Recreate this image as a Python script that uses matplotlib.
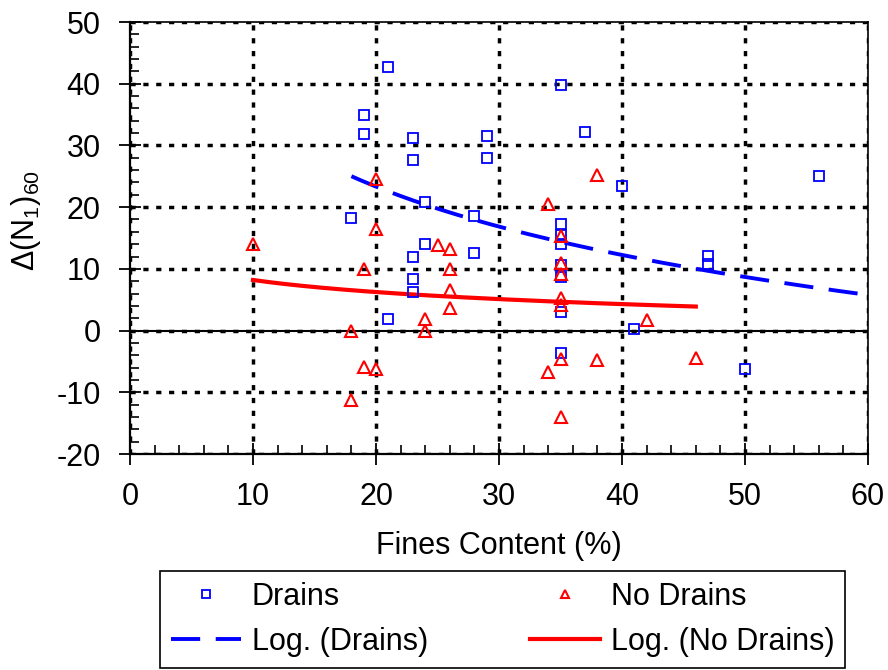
import matplotlib
matplotlib.use('Agg')
import matplotlib.pyplot as plt
from matplotlib.ticker import MultipleLocator
import numpy as np

plt.rcParams['font.family'] = 'Liberation Sans'
plt.rcParams['font.size'] = 22
plt.rcParams['axes.unicode_minus'] = False
plt.rcParams['mathtext.fontset'] = 'custom'
plt.rcParams['mathtext.rm'] = 'Liberation Sans'
plt.rcParams['mathtext.it'] = 'Liberation Sans:italic'

# fines content (%) and change in (N1)60, sites with drains
drains_fc = [18, 19, 19, 21, 21, 23, 23, 23, 23, 23, 24, 24, 28, 28, 29, 29,
             35, 35, 35, 35, 35, 35, 35, 35, 37, 40, 41, 47, 47, 50, 56]
drains_dn = [18.3, 35.0, 31.8, 42.7, 1.9, 31.2, 27.6, 11.9, 8.3, 6.3, 20.8, 14.1,
             18.6, 12.5, 31.5, 28.0, 39.8, 17.3, 15.5, 14.0, 10.6, 8.6, 3.0, -3.7,
             32.1, 23.4, 0.2, 12.1, 10.8, -6.2, 25.0]

# sites without drains
nodrains_fc = [10, 18, 18, 19, 19, 20, 20, 20, 24, 24, 25, 26, 26, 26, 26,
               34, 34, 35, 35, 35, 35, 35, 35, 35, 38, 38, 42, 46]
nodrains_dn = [14.1, 0.0, -11.3, 10.0, -5.9, 24.6, 16.4, -6.2, 1.9, 0.0, 13.9,
               13.2, 9.9, 6.6, 3.7, 20.5, -6.7, 15.3, 11.0, 9.2, 5.3, 4.2, -4.6,
               -14.0, 25.2, -4.8, 1.7, -4.5]

# log trendlines y = a + b*ln(x); drains one runs forward to 60
drains_a, drains_b = 71.2, -15.98
nodrains_a, nodrains_b = 14.69, -2.82

xd = np.array(drains_fc, dtype=float)
xn = np.array(nodrains_fc, dtype=float)
xs_d = np.linspace(xd.min(), 60, 200)
xs_n = np.linspace(xn.min(), xn.max(), 200)

fig = plt.figure(figsize=(8.88, 6.7), dpi=100)
ax = fig.add_axes([130/888, 1-454/670, 738/888, 432/670])

ax.set_xlim(0, 60)
ax.set_ylim(-20, 50)
ax.xaxis.set_major_locator(MultipleLocator(10))
ax.xaxis.set_minor_locator(MultipleLocator(2))
ax.yaxis.set_major_locator(MultipleLocator(10))
ax.yaxis.set_minor_locator(MultipleLocator(2))

ax.grid(True, which='major', color='black', linestyle=(0, (1.5, 2.2)), linewidth=2.5)
ax.set_axisbelow(True)
ax.axhline(0, color='black', linewidth=1.5, zorder=1.5)

d_pts, = ax.plot(xd, drains_dn, 's', color='#0000ff', mfc='none', ms=7, mew=1.3,
                 label='Drains', zorder=3)
n_pts, = ax.plot(xn, nodrains_dn, '^', color='#ff0000', mfc='none', ms=8.5, mew=1.5,
                 label='No Drains', zorder=3)
d_fit, = ax.plot(xs_d, drains_a + drains_b*np.log(xs_d), color='#0000ff', lw=2.8,
                 dashes=(7.5, 4), label='Log. (Drains)', zorder=2)
n_fit, = ax.plot(xs_n, nodrains_a + nodrains_b*np.log(xs_n), color='#ff0000', lw=3,
                 label='Log. (No Drains)', zorder=2)

for s in ['left', 'bottom']:
    ax.spines[s].set_linewidth(1.6)
for s in ['top', 'right']:
    ax.spines[s].set_linewidth(1.2)

ax.tick_params(which='major', direction='inout', length=16, width=1.3)
ax.tick_params(which='minor', direction='in', length=6.5, width=1.2)
ax.tick_params(axis='x', which='major', pad=12.5)
ax.tick_params(axis='y', which='major', pad=13)

ax.set_xlabel('Fines Content (%)', labelpad=13)
ax.set_ylabel('Δ(N$_{1}$)$_{60}$')
ax.yaxis.set_label_coords(-0.118, 0.54)

leg = fig.legend([d_pts, d_fit, n_pts, n_fit],
                 ['Drains', 'Log. (Drains)', 'No Drains', 'Log. (No Drains)'],
                 ncol=2, loc='upper left', mode='expand',
                 bbox_to_anchor=(160/888, -0.1, 685/888, 0.1+1-571/670),
                 fancybox=False, edgecolor='black', framealpha=1,
                 markerscale=0.75, handlelength=2.3, handletextpad=0.35,
                 labelspacing=0.5, borderpad=0.35, borderaxespad=0)
leg.get_frame().set_linewidth(1.2)

fig.savefig('out.png', dpi=100)
